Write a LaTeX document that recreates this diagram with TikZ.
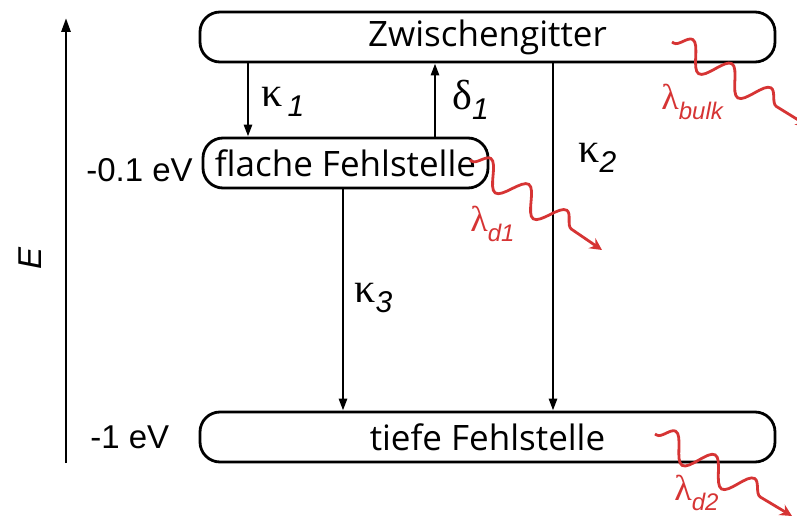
\documentclass[tikz,border=0pt]{standalone}
\usepackage{fontspec}
\setmainfont{Open Sans}
\newfontfamily\labelfont{Liberation Sans}
\newfontfamily\greekfont{Liberation Serif}
\usetikzlibrary{arrows.meta,decorations.pathmorphing}
\definecolor{photonred}{RGB}{214,52,52}

% rate symbol with a subscript: #1 greek letter, #2 index
\newcommand{\ratesym}[2]{{\greekfont #1}\raisebox{-0.45ex}{\labelfont\itshape\fontsize{15}{16}\selectfont #2}}
\newcommand{\photonsym}[1]{{\greekfont λ}\raisebox{-0.55ex}{\labelfont\itshape\fontsize{12}{14}\selectfont #1}}

\begin{document}
\begin{tikzpicture}[x=0.5pt,y=-0.5pt,
  level/.style={draw, line width=1.4pt, rounded corners=10pt,
    minimum height=25pt, inner sep=0pt,
    font=\fontsize{17.5}{20}\selectfont},
  trans/.style={line width=1.3pt, -{Triangle[length=6pt,width=4pt]}},
  rate/.style={font=\fontsize{21}{24}\selectfont, inner sep=0pt, anchor=west},
  axislabel/.style={font=\labelfont\fontsize{16.5}{19}\selectfont, inner sep=0pt},
  photon/.style={draw=photonred, line width=1.4pt,
    -{Stealth[length=6pt,width=6pt,inset=2pt]},
    decorate, decoration={snake, segment length=23pt, amplitude=6.5pt,
      pre length=1pt, post length=10pt}},
  photonlabel/.style={text=photonred, font=\fontsize{18}{20}\selectfont,
    inner sep=0pt, anchor=west}]

\useasboundingbox (0,0) rectangle (797,518);

% energy axis
\coordinate (Ebot) at (66,463);
\coordinate (Etop) at (66,18);
\draw[line width=1.4pt, -{Triangle[length=7pt,width=4.5pt]}] (Ebot) -- (Etop);
\node[rotate=90, font=\labelfont\itshape\fontsize{16.5}{19}\selectfont] (E) at (30,258) {E};
\node[axislabel, anchor=west] (e01) at (86,170) {-0.1 eV};
\node[axislabel, anchor=west] (e1) at (90,437) {-1 eV};

% levels
\node[level, minimum width=287.5pt] (zg) at (487.5,37) {Zwischengitter};
\node[level, minimum width=142.5pt] (fl) at (345.5,163) {flache Fehlstelle};
\node[level, minimum width=287.5pt] (tf) at (487.5,437) {tiefe Fehlstelle};

% transitions
\coordinate (xk1) at (248,0);
\coordinate (xd1) at (435,0);
\coordinate (xk2) at (553,0);
\coordinate (xk3) at (343,0);
\draw[trans] (zg.south -| xk1) -- (fl.north -| xk1);
\draw[trans] (fl.north -| xd1) -- (zg.south -| xd1);
\draw[trans] (zg.south -| xk2) -- (tf.north -| xk2);
\draw[trans] (fl.south -| xk3) -- (tf.north -| xk3);

\node[rate] (k1) at (261,102) {\ratesym{κ}{\,1}};
\node[rate] (d1) at (452,100) {\ratesym{δ}{1}};
\node[rate] (k2) at (578,158) {\ratesym{κ}{2}};
\node[rate] (k3) at (354,298) {\ratesym{κ}{3}};

% emission
\coordinate (pb0) at (672,42);
\coordinate (pb1) at (808,126);
\coordinate (pd0) at (470,160);
\coordinate (pd1) at (602,250);
\coordinate (pt0) at (655,434);
\coordinate (pt1) at (792,516);
\draw[photon] (pb0) -- (pb1);
\draw[photon] (pd0) -- (pd1);
\draw[photon] (pt0) -- (pt1);

\node[photonlabel] (lb) at (661,102) {\photonsym{bulk}};
\node[photonlabel] (ld1) at (470,224) {\photonsym{d1}};
\node[photonlabel] (ld2) at (674,493) {\photonsym{d2}};
\end{tikzpicture}
\end{document}
